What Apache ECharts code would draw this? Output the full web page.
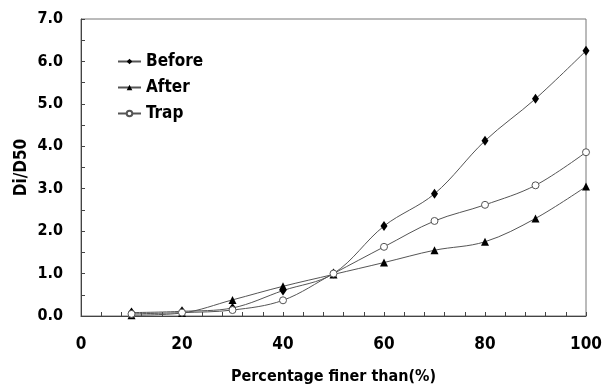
<!DOCTYPE html>
<html lang="en" style="height: 100%">
<head>
  <meta charset="utf-8">
</head>
<body style="height: 100%; margin: 0; background: #fff">
  <div id="container" style="width: 609px; height: 390px"></div>

  <script type="text/javascript" src="https://fastly.jsdelivr.net/npm/echarts@6/dist/echarts.min.js"></script>
  <script type="text/javascript">
    // percentage finer than (%)
    var pct = [10, 20, 30, 40, 50, 60, 70, 80, 90, 100];
    var before = [0.08, 0.11, 0.19, 0.60, 1.00, 2.12, 2.88, 4.13, 5.12, 6.25];
    var after = [0.02, 0.07, 0.38, 0.70, 0.98, 1.26, 1.55, 1.75, 2.30, 3.05];
    var trap = [0.05, 0.08, 0.14, 0.37, 1.00, 1.63, 2.24, 2.62, 3.08, 3.86];

    var FONT = "'DejaVu Sans Condensed', 'DejaVu Sans', sans-serif";

    function pairs(ys) {
      return pct.map(function (x, i) {
        return [x, ys[i]];
      });
    }

    var dom = document.getElementById('container');
    var myChart = echarts.init(dom, null, { renderer: 'canvas' });

    var lineStyle = { color: '#555', width: 1 };

    var option = {
      backgroundColor: '#fff',
      animation: false,
      grid: {
        left: 81,
        top: 19,
        right: 23,
        bottom: 73,
        show: true,
        borderColor: '#777',
        borderWidth: 1
      },
      legend: {
        orient: 'vertical',
        left: 117,
        top: 53,
        padding: 0,
        itemWidth: 23,
        itemHeight: 7,
        itemGap: 9,
        textStyle: { fontFamily: FONT, fontSize: 17, fontWeight: 'bold', color: '#000' },
        data: ['Before', 'After', 'Trap']
      },
      xAxis: {
        type: 'value',
        min: 0,
        max: 100,
        interval: 20,
        name: 'Percentage finer than(%)',
        nameLocation: 'middle',
        nameGap: 53,
        nameMoveOverlap: false,
        nameTextStyle: { fontFamily: FONT, fontSize: 16, fontWeight: 'bold', color: '#000' },
        axisLine: { lineStyle: { color: '#444', width: 1 } },
        axisTick: { inside: true, length: 4, lineStyle: { color: '#444' } },
        minorTick: { show: true, splitNumber: 5, length: 4, lineStyle: { color: '#444' } },
        splitLine: { show: false },
        axisLabel: { margin: 20, fontFamily: FONT, fontSize: 17, fontWeight: 'bold', color: '#000' }
      },
      yAxis: {
        type: 'value',
        min: 0,
        max: 7,
        interval: 1,
        name: 'Di/D50',
        nameLocation: 'middle',
        nameGap: 51,
        nameMoveOverlap: false,
        nameTextStyle: { fontFamily: FONT, fontSize: 17, fontWeight: 'bold', color: '#000' },
        axisLine: { show: true, lineStyle: { color: '#444', width: 1 } },
        axisTick: { show: true, inside: true, length: 4, lineStyle: { color: '#444' } },
        minorTick: { show: true, splitNumber: 2, length: 4, lineStyle: { color: '#444' } },
        splitLine: { show: false },
        axisLabel: {
          margin: 18,
          fontFamily: FONT,
          fontSize: 16,
          fontWeight: 'bold',
          color: '#000',
          formatter: function (v) { return v.toFixed(1); }
        }
      },
      series: [
        {
          name: 'Before',
          type: 'line',
          smooth: 0.35,
          data: pairs(before),
          symbol: 'diamond',
          symbolSize: [7, 10],
          lineStyle: lineStyle,
          itemStyle: { color: '#000' }
        },
        {
          name: 'After',
          type: 'line',
          smooth: 0.35,
          data: pairs(after),
          symbol: 'triangle',
          symbolSize: 8,
          lineStyle: lineStyle,
          itemStyle: { color: '#000' }
        },
        {
          name: 'Trap',
          type: 'line',
          smooth: 0.35,
          data: pairs(trap),
          symbol: 'circle',
          symbolSize: 7,
          lineStyle: lineStyle,
          itemStyle: { color: '#fff', borderColor: '#555', borderWidth: 1 }
        }
      ]
    };

    myChart.setOption(option);
    window.addEventListener('resize', myChart.resize);
  </script>
</body>
</html>
